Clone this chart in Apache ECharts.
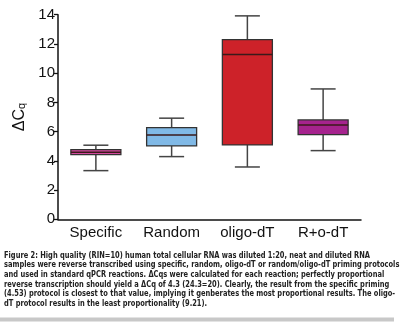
<!DOCTYPE html>
<html>
<head>
<meta charset="utf-8">
<script src="https://cdn.jsdelivr.net/npm/echarts@6/dist/echarts.min.js"></script>
<style>
  html, body { margin: 0; padding: 0; background: #fff; }
  #chart { width: 400px; height: 330px; }
</style>
</head>
<body>
<div id="chart"></div>
<script>
// Priming protocols along the x axis
const categories = ['Specific', 'Random', 'oligo-dT', 'R+o-dT'];
// Box statistics per protocol: [min, Q1, median, Q3, max]
const specificStats = [3.33, 4.42, 4.59, 4.77, 5.07];
const randomStats   = [4.29, 5.02, 5.77, 6.27, 6.92];
const oligoStats    = [3.58, 5.09, 11.27, 12.30, 13.92];
const roStats       = [4.70, 5.80, 6.45, 6.80, 8.92];
const boxColors = ['#d4479e', '#80b9e6', '#cd2229', '#a6238e'];
const yTicks = [0, 2, 4, 6, 8, 10, 12, 14];

const caption = [
  'Figure 2: High quality (RIN=10) human total cellular RNA was diluted 1:20, neat and diluted RNA',
  'samples were reverse transcribed using specific, random, oligo-dT or random/oligo-dT priming protocols',
  'and used in standard qPCR reactions. \u0394Cqs were calculated for each reaction; perfectly proportional',
  'reverse transcription should yield a \u0394Cq of 4.3 (24.3=20). Clearly, the result from the specific priming',
  '(4.53) protocol is closest to that value, implying it genberates the most proportional results. The oligo-',
  'dT protocol results in the least proportionality (9.21).'
];

const allStats = [specificStats, randomStats, oligoStats, roStats];
const seriesData = allStats.map((s, i) => [i].concat(s));

const chart = echarts.init(document.getElementById('chart'), null, { renderer: 'canvas' });

function renderBox(params, api) {
  const idx = api.value(0);
  const x = api.coord([idx, 0])[0];
  const yMin = api.coord([idx, api.value(1)])[1];
  const yQ1 = api.coord([idx, api.value(2)])[1];
  const yMed = api.coord([idx, api.value(3)])[1];
  const yQ3 = api.coord([idx, api.value(4)])[1];
  const yMax = api.coord([idx, api.value(5)])[1];
  const bw = 50, cw = 25;
  const whisker = { stroke: '#444', lineWidth: 1.5 };
  return {
    type: 'group',
    children: [
      { type: 'line', shape: { x1: x, y1: yMax, x2: x, y2: yQ3 }, style: whisker },
      { type: 'line', shape: { x1: x, y1: yQ1, x2: x, y2: yMin }, style: whisker },
      { type: 'line', shape: { x1: x - cw / 2, y1: yMax, x2: x + cw / 2, y2: yMax }, style: whisker },
      { type: 'line', shape: { x1: x - cw / 2, y1: yMin, x2: x + cw / 2, y2: yMin }, style: whisker },
      { type: 'rect', shape: { x: x - bw / 2, y: yQ3, width: bw, height: yQ1 - yQ3 },
        style: { fill: boxColors[idx], stroke: '#333', lineWidth: 1.3 } },
      { type: 'line', shape: { x1: x - bw / 2, y1: yMed, x2: x + bw / 2, y2: yMed },
        style: { stroke: '#3a1a1a', lineWidth: 1.5 } }
    ]
  };
}

// Caption lines, condensed horizontally to fit the page width
const captionGraphics = caption.map((line, i) => ({
  type: 'text',
  x: 4,
  y: 251 + i * 9.6,
  scaleX: 0.865,
  style: {
    text: line,
    font: 'bold 8.6px "Liberation Sans Narrow", "DejaVu Sans Condensed", sans-serif',
    fill: '#222'
  }
}));

chart.setOption({
  animation: false,
  grid: { left: 58, right: 39, top: 14.7, bottom: 110.7 },
  xAxis: {
    type: 'category',
    data: categories,
    axisLine: { lineStyle: { color: '#111', width: 1.5 } },
    axisTick: { alignWithLabel: true, length: 4, lineStyle: { color: '#111', width: 1.3 } },
    axisLabel: { color: '#111', fontSize: 15, fontFamily: 'Liberation Sans, Arial, sans-serif', margin: 6 }
  },
  yAxis: {
    type: 'value',
    min: 0, max: 14, interval: 2,
    axisLine: { show: true, lineStyle: { color: '#111', width: 1.5 } },
    axisTick: { show: true, length: 4, lineStyle: { color: '#111', width: 1.3 } },
    splitLine: { show: false },
    axisLabel: {
      color: '#111', fontSize: 15, fontFamily: 'Liberation Sans, Arial, sans-serif', margin: 3,
      formatter: v => (yTicks.indexOf(v) >= 0 ? String(v) : '')
    },
    name: '{a|\u0394C}{b|q}',
    nameLocation: 'middle',
    nameGap: 27,
    nameRotate: 90,
    nameTextStyle: {
      rich: {
        a: { fontSize: 16, color: '#111', fontFamily: 'Liberation Sans, Arial, sans-serif', verticalAlign: 'bottom', lineHeight: 20 },
        b: { fontSize: 11, color: '#111', fontFamily: 'Liberation Sans, Arial, sans-serif', verticalAlign: 'bottom', lineHeight: 14 }
      }
    }
  },
  graphic: captionGraphics.concat([
    { type: 'rect', x: 0, y: 317.5, shape: { width: 394, height: 4 }, style: { fill: '#c8c8c8' } }
  ]),
  series: [{
    type: 'custom',
    renderItem: renderBox,
    encode: { x: 0, y: [1, 2, 3, 4, 5] },
    data: seriesData
  }]
});
</script>
</body>
</html>
